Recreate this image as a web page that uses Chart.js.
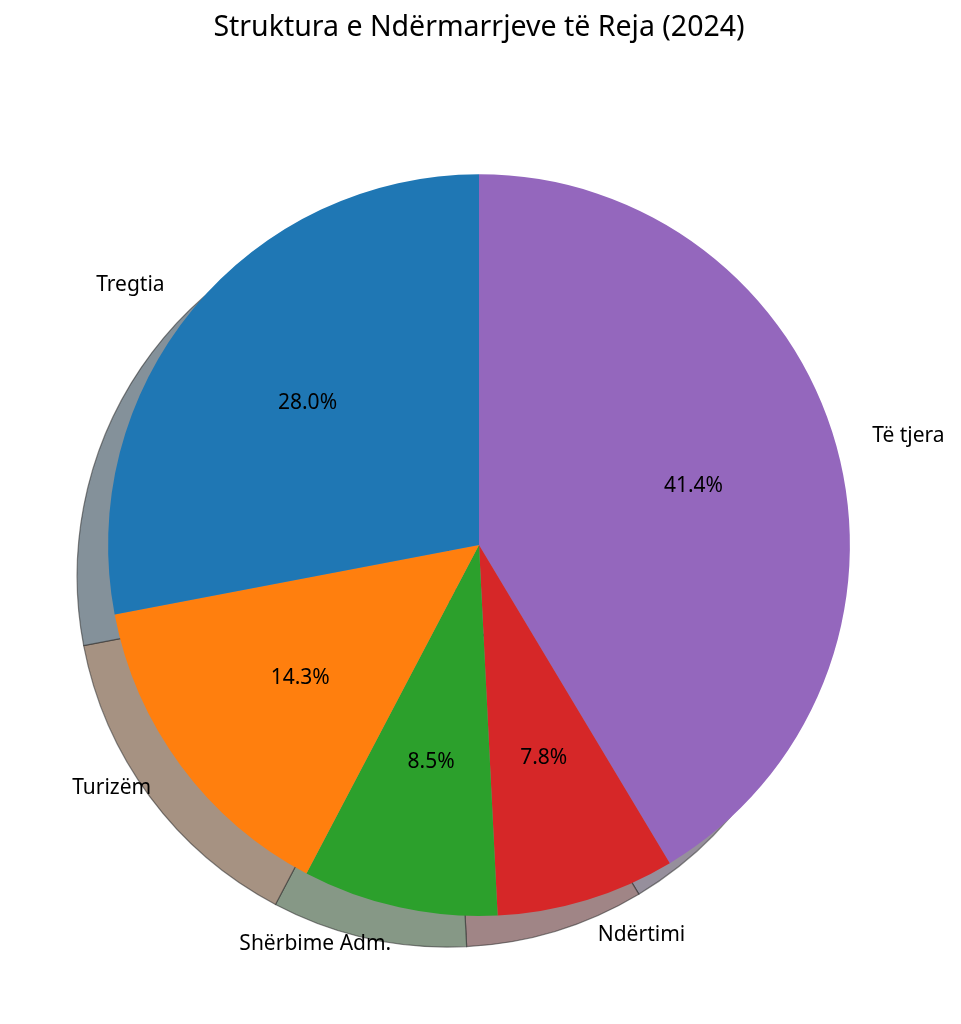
<!DOCTYPE html>
<html>
<head>
<meta charset="utf-8">
<script src="https://cdn.jsdelivr.net/npm/chart.js@4.4.1/dist/chart.umd.min.js"></script>
<style>
	html, body { margin: 0; padding: 0; background: #fff; }
	#wrap { width: 961px; height: 1024px; position: relative; }
</style>
</head>
<body>
<div id="wrap"><canvas id="pie"></canvas></div>
<script>
// values (matplotlib order, counter-clockwise from top)
var categories = ['Tregtia', 'Turizëm', 'Shërbime Adm.', 'Ndërtimi', 'Të tjera'];
var shares = [28.0, 14.3, 8.5, 7.8, 41.4];
var colors = ['#1f77b4', '#ff7f0e', '#2ca02c', '#d62728', '#9467bd'];
var shadowColors = ['#84919a', '#a69282', '#869886', '#a08586', '#968f9c'];

// Chart.js draws clockwise, so reverse to get the same visual order
var labels = categories.slice().reverse();
var values = shares.slice().reverse();
var bg = colors.slice().reverse();
var shadowBg = shadowColors.slice().reverse();

var FONT = '"Noto Sans", sans-serif';

var shadowPlugin = {
	id: 'pieShadow',
	beforeDatasetsDraw: function(chart) {
		var ctx = chart.ctx;
		var arcs = chart.getDatasetMeta(0).data;
		ctx.save();
		arcs.forEach(function(arc, i) {
			var p = arc.getProps(['x', 'y', 'startAngle', 'endAngle', 'outerRadius'], true);
			var cx = p.x - 31, cy = p.y + 31;
			ctx.beginPath();
			ctx.moveTo(cx, cy);
			ctx.arc(cx, cy, p.outerRadius, p.startAngle, p.endAngle);
			ctx.closePath();
			ctx.fillStyle = shadowBg[i];
			ctx.fill();
			ctx.lineWidth = 1.2;
			ctx.strokeStyle = 'rgba(40,40,40,0.55)';
			ctx.stroke();
		});
		ctx.restore();
	}
};

var labelPlugin = {
	id: 'pieLabels',
	afterDatasetsDraw: function(chart) {
		var ctx = chart.ctx;
		var arcs = chart.getDatasetMeta(0).data;
		ctx.save();
		ctx.font = '21px ' + FONT;
		ctx.fillStyle = '#000';
		ctx.textBaseline = 'middle';
		arcs.forEach(function(arc, i) {
			var p = arc.getProps(['x', 'y', 'startAngle', 'endAngle', 'outerRadius'], true);
			var mid = (p.startAngle + p.endAngle) / 2;
			var c = Math.cos(mid), s = Math.sin(mid);
			// percentage inside
			ctx.textAlign = 'center';
			ctx.fillText(values[i].toFixed(1) + '%', p.x + c * p.outerRadius * 0.6, p.y + s * p.outerRadius * 0.6);
			// category outside
			ctx.textAlign = c >= 0 ? 'left' : 'right';
			ctx.fillText(labels[i], p.x + c * p.outerRadius * 1.1, p.y + s * p.outerRadius * 1.1);
		});
		ctx.restore();
	}
};

new Chart(document.getElementById('pie'), {
	type: 'pie',
	data: {
		labels: labels,
		datasets: [{
			data: values,
			backgroundColor: bg,
			borderWidth: 0,
			hoverOffset: 0
		}]
	},
	options: {
		responsive: true,
		maintainAspectRatio: false,
		animation: false,
		layout: {
			padding: { top: 0, bottom: 108, left: 108, right: 111 }
		},
		plugins: {
			legend: { display: false },
			tooltip: { enabled: false },
			title: {
				display: true,
				text: 'Struktura e Ndërmarrjeve të Reja (2024)',
				color: '#000',
				font: { family: FONT, size: 28.5, weight: 'normal' },
				padding: { top: 11, bottom: 129 }
			}
		}
	},
	plugins: [shadowPlugin, labelPlugin]
});
</script>
</body>
</html>
